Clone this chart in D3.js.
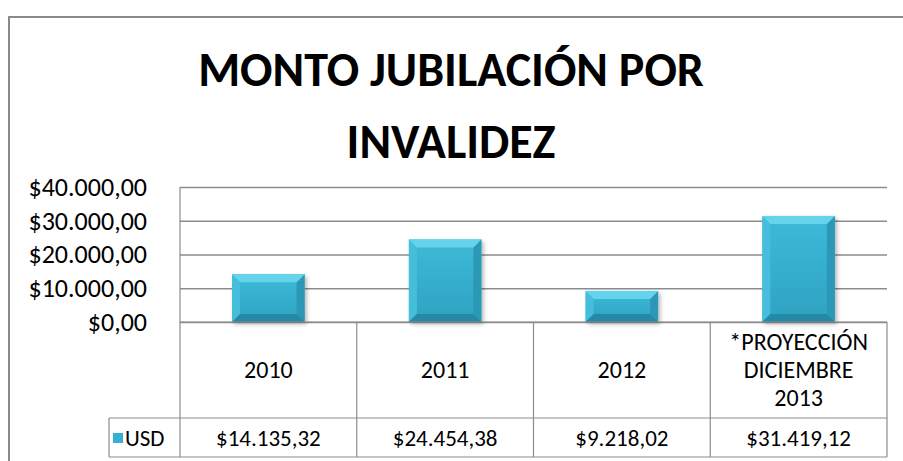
<!DOCTYPE html>
<html>
<head>
<meta charset="utf-8">
<script src="https://cdn.jsdelivr.net/npm/d3@7"></script>
<style>
  body { margin: 0; background: #fff; }
  text { font-family: Carlito, Calibri, Lato, sans-serif; fill: #000; }
</style>
</head>
<body>
<svg id="chart"></svg>
<script>
// chart data
var titleLines = ["MONTO JUBILACIÓN POR", "INVALIDEZ"];
var categories = [["2010"], ["2011"], ["2012"], ["*PROYECCIÓN", "DICIEMBRE", "2013"]];
var values = [14135.32, 24454.38, 9218.02, 31419.12];
var valueLabels = ["$14.135,32", "$24.454,38", "$9.218,02", "$31.419,12"];
var tickValues = [0, 10000, 20000, 30000, 40000];
var tickLabels = ["$0,00", "$10.000,00", "$20.000,00", "$30.000,00", "$40.000,00"];
var seriesName = "USD";

var W = 903, H = 461;
var plot = { left: 180, right: 887, top: 187, bottom: 322 };
var headerBottom = 418, tableBottom = 457, legendLeft = 109;
var lineColor = "#8c8c8c";

var svg = d3.select("#chart").attr("width", W).attr("height", H);

// outer chart border (right/bottom run off the picture)
svg.append("rect")
  .attr("x", 9).attr("y", 17)
  .attr("width", W).attr("height", H)
  .attr("fill", "none").attr("stroke", "#8a8a8a").attr("stroke-width", 2);

// title
svg.append("g").selectAll("text")
  .data(titleLines)
  .join("text")
  .attr("x", 451)
  .attr("y", (d, i) => 86 + i * 72)
  .attr("text-anchor", "middle")
  .style("font-size", "48px")
  .style("font-weight", "bold")
  .text(d => d);

var x = d3.scaleBand().domain(d3.range(categories.length)).range([plot.left, plot.right]);
var y = d3.scaleLinear().domain([0, 40000]).range([plot.bottom, plot.top]);

// gridlines
svg.append("g")
  .attr("transform", `translate(${plot.left},0)`)
  .call(d3.axisLeft(y).tickValues(tickValues).tickSize(-(plot.right - plot.left)).tickFormat(""))
  .call(g => g.select(".domain").remove())
  .call(g => g.selectAll("line").attr("stroke", lineColor).attr("stroke-width", 1.5));

// y labels
svg.append("g")
  .attr("transform", `translate(${plot.left},0)`)
  .call(d3.axisLeft(y).tickValues(tickValues).tickSize(0).tickPadding(33)
    .tickFormat((d, i) => tickLabels[i]))
  .call(g => g.select(".domain").remove())
  .call(g => g.selectAll("text").style("font-size", "26px").attr("fill", "#000"));

// bars
var defs = svg.append("defs");
var grad = defs.append("linearGradient").attr("id", "barGrad").attr("x1", 0).attr("y1", 0).attr("x2", 0).attr("y2", 1);
grad.append("stop").attr("offset", "0%").attr("stop-color", "#3dbad8");
grad.append("stop").attr("offset", "100%").attr("stop-color", "#2ea2c2");
var shadow = defs.append("filter").attr("id", "shadow").attr("x", "-20%").attr("y", "-20%").attr("width", "140%").attr("height", "140%");
shadow.append("feDropShadow").attr("dx", 2).attr("dy", 2).attr("stdDeviation", 2).attr("flood-color", "#000").attr("flood-opacity", 0.3);

var bw = x.bandwidth() * 0.41, bev = 8;
var bars = svg.append("g").selectAll("g")
  .data(values)
  .join("g")
  .attr("transform", (d, i) => `translate(${x(i) + (x.bandwidth() - bw) / 2},${y(d)})`);

bars.append("rect")
  .attr("width", bw)
  .attr("height", d => y(0) - y(d))
  .attr("fill", "url(#barGrad)")
  .attr("filter", "url(#shadow)");
// bevel faces
bars.append("path")
  .attr("d", d => { var h = y(0) - y(d), b = Math.min(bev, h / 2);
    return `M0,0L${b},${b}V${h - b}L0,${h}Z`; })
  .attr("fill", "#44bedb");
bars.append("path")
  .attr("d", d => { var h = y(0) - y(d), b = Math.min(bev, h / 2);
    return `M${bw},0V${h}L${bw - b},${h - b}V${b}Z`; })
  .attr("fill", "#2c98b7");
bars.append("path")
  .attr("d", d => { var h = y(0) - y(d), b = Math.min(bev, h / 2);
    return `M0,${h}H${bw}L${bw - b},${h - b}H${b}Z`; })
  .attr("fill", "#2589a6");
bars.append("path")
  .attr("d", d => { var b = Math.min(bev, (y(0) - y(d)) / 2);
    return `M0,0H${bw}L${bw - b},${b}H${b}Z`; })
  .attr("fill", "#66d3ec");

// data table lines
var table = svg.append("g").attr("stroke", lineColor).attr("stroke-width", 1.2);
table.append("line").attr("x1", plot.left).attr("x2", plot.left).attr("y1", plot.top).attr("y2", tableBottom);
table.append("line").attr("x1", plot.left).attr("x2", plot.right).attr("y1", plot.bottom).attr("y2", plot.bottom);
table.append("line").attr("x1", legendLeft).attr("x2", plot.right).attr("y1", headerBottom).attr("y2", headerBottom);
table.append("line").attr("x1", legendLeft).attr("x2", plot.right).attr("y1", tableBottom).attr("y2", tableBottom);
table.append("line").attr("x1", legendLeft).attr("x2", legendLeft).attr("y1", headerBottom).attr("y2", tableBottom);
table.selectAll("line.col")
  .data(d3.range(1, categories.length + 1))
  .join("line")
  .attr("class", "col")
  .attr("x1", i => x(i - 1) + x.bandwidth())
  .attr("x2", i => x(i - 1) + x.bandwidth())
  .attr("y1", plot.bottom).attr("y2", tableBottom);

// category headers
var header = svg.append("g").selectAll("text")
  .data(categories)
  .join("text")
  .attr("text-anchor", "middle")
  .style("font-size", "24px")
  .attr("transform", (d, i) => `translate(${x(i) + x.bandwidth() / 2},${(plot.bottom + headerBottom) / 2})`);
header.selectAll("tspan")
  .data(d => d.map((t, j) => ({ t: t, n: d.length, j: j })))
  .join("tspan")
  .attr("x", 0)
  .attr("y", d => (d.j - (d.n - 1) / 2) * 28)
  .attr("dy", "0.35em")
  .text(d => d.t);

// value row
svg.append("g").selectAll("text")
  .data(valueLabels)
  .join("text")
  .attr("x", (d, i) => x(i) + x.bandwidth() / 2)
  .attr("y", (headerBottom + tableBottom) / 2)
  .attr("dy", "0.35em")
  .attr("text-anchor", "middle")
  .style("font-size", "23px")
  .text(d => d);

// legend key
svg.append("rect")
  .attr("x", 113).attr("y", 433).attr("width", 10).attr("height", 10)
  .attr("fill", "#35b0cf");
svg.append("text")
  .attr("x", 125).attr("y", (headerBottom + tableBottom) / 2)
  .attr("dy", "0.35em")
  .style("font-size", "23px")
  .text(seriesName);
</script>
</body>
</html>
